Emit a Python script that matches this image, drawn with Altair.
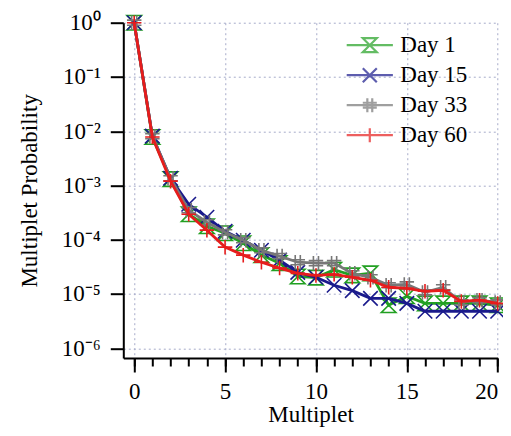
import altair as alt
import pandas as pd

multiplet = list(range(21))
series = ["Day 1", "Day 15", "Day 33", "Day 60"]
day1 = [1.0, 7.8e-3, 1.31e-3, 2.95e-4, 1.77e-4, 1.32e-4, 8.6e-5, 5.2e-5, 3.7e-5, 2.1e-5,
        2.0e-5, 2.8e-5, 2.2e-5, 2.4e-5, 6.2e-6, 9.1e-6, 6.7e-6, 6.7e-6, 6.7e-6, 6.7e-6, 6.2e-6]
day15 = [1.0, 8.1e-3, 1.36e-3, 4.5e-4, 2.6e-4, 1.43e-4, 9.8e-5, 6.4e-5, 4.2e-5, 2.5e-5,
         2.03e-5, 1.45e-5, 1.15e-5, 8.3e-6, 8.3e-6, 6.7e-6, 4.8e-6, 4.8e-6, 4.8e-6, 4.8e-6, 4.8e-6]
day33 = [1.0, 8.1e-3, 1.36e-3, 3.5e-4, 2.1e-4, 1.37e-4, 9.8e-5, 6.4e-5, 5.0e-5, 3.85e-5,
         3.7e-5, 3.7e-5, 2.4e-5, 2.03e-5, 1.45e-5, 1.5e-5, 1.07e-5, 1.33e-5, 7.0e-6, 7.7e-6, 7.0e-6]
day60 = [1.0, 7.8e-3, 1.2e-3, 2.95e-4, 1.5e-4, 7.3e-5, 5.2e-5, 3.85e-5, 3.0e-5, 2.4e-5,
         2.2e-5, 2.3e-5, 2.03e-5, 1.79e-5, 1.33e-5, 1.27e-5, 1.12e-5, 1.17e-5, 7.3e-6, 7.7e-6, 6.7e-6]
y_ticks = [1, 1e-1, 1e-2, 1e-3, 1e-4, 1e-5, 1e-6]
x_major_ticks = [0, 5, 10, 15, 20]

colors = ["#22a022", "#1a1a8c", "#777777", "#e61c1c"]
marker_paths = [
    "M-1,-1L1,-1L-1,1L1,1Z",
    "M-1,-1L1,1M-1,1L1,-1",
    "M-0.35,-1V1M0.35,-1V1M-1,-0.35H1M-1,0.35H1",
    "M0,-1V1M-1,0H1",
]
legend_paths = ["M-3.3,0H3.3" + p for p in marker_paths]

rows = []
for name, vals in zip(series, [day1, day15, day33, day60]):
    for m, v in zip(multiplet, vals):
        rows.append({"Multiplet": m, "Probability": v, "Series": name})
df = pd.DataFrame(rows)

FONT = "Liberation Serif"
FS = 23
xscale = alt.Scale(domain=[-0.6, 20], nice=False, zero=False)
yscale = alt.Scale(type="log", domain=[10 ** -6.18, 1], nice=False)
GRID = "#a6abc9"

x_major_axis = alt.Axis(values=x_major_ticks, orient="bottom", tickSize=14, tickWidth=2,
                        tickColor="black", domainColor="black", domainWidth=2,
                        labelFont=FONT, labelFontSize=FS, labelColor="black", labelPadding=9,
                        title="Multiplet", titleFont=FONT, titleFontSize=FS,
                        titleFontWeight="normal", titleColor="black", titlePadding=0,
                        grid=True, gridDash=[2, 3], gridColor=GRID, gridWidth=1)
x_minor_axis = alt.Axis(values=multiplet, orient="bottom", tickSize=8, tickWidth=2,
                        tickColor="black", domain=False, labels=False, title=None, grid=False)
y_axis = alt.Axis(values=y_ticks, orient="left", tickSize=13, tickWidth=2, tickColor="black",
                  domainColor="black", domainWidth=2,
                  labelExpr="'10' + ['\u2070','\u207b\u00b9','\u207b\u00b2','\u207b\u00b3','\u207b\u2074','\u207b\u2075','\u207b\u2076'][round(-log(datum.value)/LN10)]",
                  labelFont=FONT, labelFontSize=FS, labelColor="black", labelPadding=10,
                  title="Multiplet Probability", titleFont=FONT, titleFontSize=FS,
                  titleFontWeight="normal", titleColor="black", titlePadding=20,
                  grid=True, gridDash=[2, 3], gridColor=GRID, gridWidth=1)

layers = []
# axis-only layers
axis_base = alt.Chart(df).mark_point(size=0, opacity=0)
layers.append(axis_base.encode(
    x=alt.X("Multiplet:Q", scale=xscale, axis=x_major_axis),
    y=alt.Y("Probability:Q", scale=yscale, axis=y_axis),
))
layers.append(axis_base.encode(
    x=alt.X("Multiplet:Q", scale=xscale, axis=x_minor_axis),
    y=alt.Y("Probability:Q", scale=yscale, axis=None),
))
for name, col, path in zip(series, colors, marker_paths):
    base = alt.Chart(df).transform_filter(alt.datum.Series == name)
    enc = dict(
        x=alt.X("Multiplet:Q", scale=xscale, axis=None),
        y=alt.Y("Probability:Q", scale=yscale, axis=None),
    )
    pts = base.mark_point(shape=path, filled=False, size=210, strokeWidth=1.6,
                          color=col, opacity=1).encode(**enc)
    line = base.mark_line(color=col, strokeWidth=2.8).encode(**enc)
    layers.append(pts)
    layers.append(line)

leg = alt.Legend(title=None, orient="none", legendX=235, legendY=11, padding=0,
                 labelFont=FONT, labelFontSize=FS, labelColor="black", labelOffset=19,
                 symbolSize=196, symbolStrokeWidth=2.2, rowPadding=6)
legend_layer = alt.Chart(df).mark_point(filled=False, size=0).encode(
    x=alt.X("Multiplet:Q", scale=xscale, axis=None),
    y=alt.Y("Probability:Q", scale=yscale, axis=None),
    color=alt.Color("Series:N", scale=alt.Scale(domain=series, range=colors), legend=leg),
    shape=alt.Shape("Series:N", scale=alt.Scale(domain=series, range=legend_paths), legend=leg),
)
layers.append(legend_layer)

chart = alt.layer(*layers).resolve_axis(x="independent", y="independent").properties(
    width=374.4, height=335.3,
    autosize=alt.AutoSizeParams(type="none"),
    padding={"left": 115.3, "top": 14.7, "right": 5, "bottom": 70},
).configure_view(stroke=None)

chart.save("out.html", embed_options={"renderer": "svg", "actions": False})
